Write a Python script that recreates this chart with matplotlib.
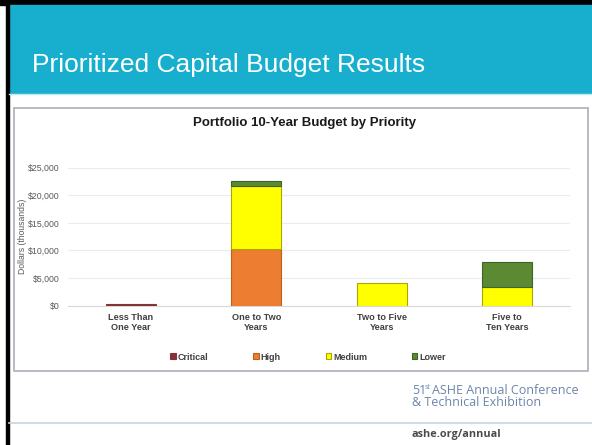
import matplotlib.pyplot as plt
from matplotlib.patches import Rectangle
import numpy as np

# data (thousands of dollars)
categories = ["Less Than\nOne Year", "One to Two\nYears", "Two to Five\nYears", "Five to\nTen Years"]
critical = [300, 0, 0, 0]
high = [0, 10300, 0, 0]
medium = [0, 11400, 4200, 3400]
lower = [0, 800, 0, 4500]

series = [("Critical", critical, "#8B2F35", "#7a3a3a"),
          ("High", high, "#ED7D31", "#b8621f"),
          ("Medium", medium, "#FFFF00", "#a8a800"),
          ("Lower", lower, "#5B8A33", "#3f6322")]

W, H = 592, 445
fig = plt.figure(figsize=(W / 100, H / 100), dpi=100)
fig.patch.set_facecolor("white")

# slide background drawn in pixel coords
bg = fig.add_axes([0, 0, 1, 1], zorder=0)
bg.set_xlim(0, W)
bg.set_ylim(H, 0)
bg.axis("off")

bg.add_patch(Rectangle((0, 0), W, 5, color="black"))
bg.add_patch(Rectangle((9, 5), W - 9, 88, color="#18AFCF"))
bg.plot([9, W], [93.5, 93.5], color="#bfeaf3", lw=1)
bg.add_patch(Rectangle((6, 0), 3, H, color="black"))
bg.text(32, 72, "Prioritized Capital Budget Results", color="white",
        fontsize=19, family="Liberation Sans", va="baseline", ha="left")

# chart frame
bg.add_patch(Rectangle((14, 108), 574, 263, facecolor="white",
                       edgecolor="#a9b0b8", lw=1.2))
bg.text(305, 123, "Portfolio 10-Year Budget by Priority", ha="center", va="center",
        fontsize=9.5, fontweight="bold", family="Liberation Sans", color="#1a1a1a")

# footer
foot = "#6b86a8"
bg.plot([9, W], [423, 423], color="#c9d3de", lw=1.2)
bg.text(412, 394, "51", fontsize=9, color=foot, family="Open Sans", va="baseline")
bg.text(425, 389, "st", fontsize=5, color=foot, family="Open Sans", va="baseline")
bg.text(432, 394, "ASHE Annual Conference", fontsize=9, color=foot,
        family="Open Sans", va="baseline")
bg.text(412, 406, "& Technical Exhibition", fontsize=9, color=foot,
        family="Open Sans", va="baseline")
bg.text(412, 437, "ashe.org/annual", fontsize=7.8, color="#4a4a4a",
        family="Open Sans", fontweight="bold", va="baseline")

# chart axes
left, right, top, bottom = 68, 570, 167.7, 305.7
ax = fig.add_axes([left / W, 1 - bottom / H, (right - left) / W, (bottom - top) / H], zorder=2)
ax.patch.set_alpha(0)

x = np.arange(len(categories))
base = np.zeros(len(categories))
handles = []
for name, vals, fc, ec in series:
    vals = np.array(vals, dtype=float)
    ec_list = [ec if v > 0 else "none" for v in vals]
    ax.bar(x, vals, 0.4, bottom=base, color=fc, edgecolor=ec_list, linewidth=0.8,
           label=name, zorder=3)
    handles.append(Rectangle((0, 0), 1, 1, facecolor=fc, edgecolor=ec, lw=0.8))
    base += vals

ax.set_xlim(-0.5, 3.5)
ax.set_ylim(0, 25000)
ax.set_yticks(np.arange(0, 25001, 5000))
ax.set_yticklabels([f"${v:,}" for v in range(0, 25001, 5000)], fontsize=6.3,
                   color="#595959", family="Liberation Sans")
ax.set_xticks(x)
ax.set_xticklabels(categories, fontsize=6.6, fontweight="bold", color="#404040",
                   family="Liberation Sans", linespacing=1.15)
ax.tick_params(length=0, pad=5)
ax.tick_params(axis="y", pad=6)
ax.grid(axis="y", color="#ececec", lw=0.8, zorder=0)
for s in ax.spines.values():
    s.set_visible(False)
ax.spines["bottom"].set_visible(True)
ax.spines["bottom"].set_color("#d9d9d9")
ax.set_ylabel("Dollars (thousands)", fontsize=6.2, color="#595959",
              family="Liberation Sans", labelpad=1)

leg = fig.legend(handles=handles, labels=[s[0] for s in series], ncol=4,
                 loc="center", bbox_to_anchor=(308 / W, 1 - 357 / H),
                 frameon=False, handlelength=0.6, handleheight=0.6, handletextpad=0.2,
                 columnspacing=5.0, prop={"size": 6.5, "weight": "bold",
                                          "family": "Liberation Sans"})
for t in leg.get_texts():
    t.set_color("#404040")

fig.savefig("out.png", dpi=100)
